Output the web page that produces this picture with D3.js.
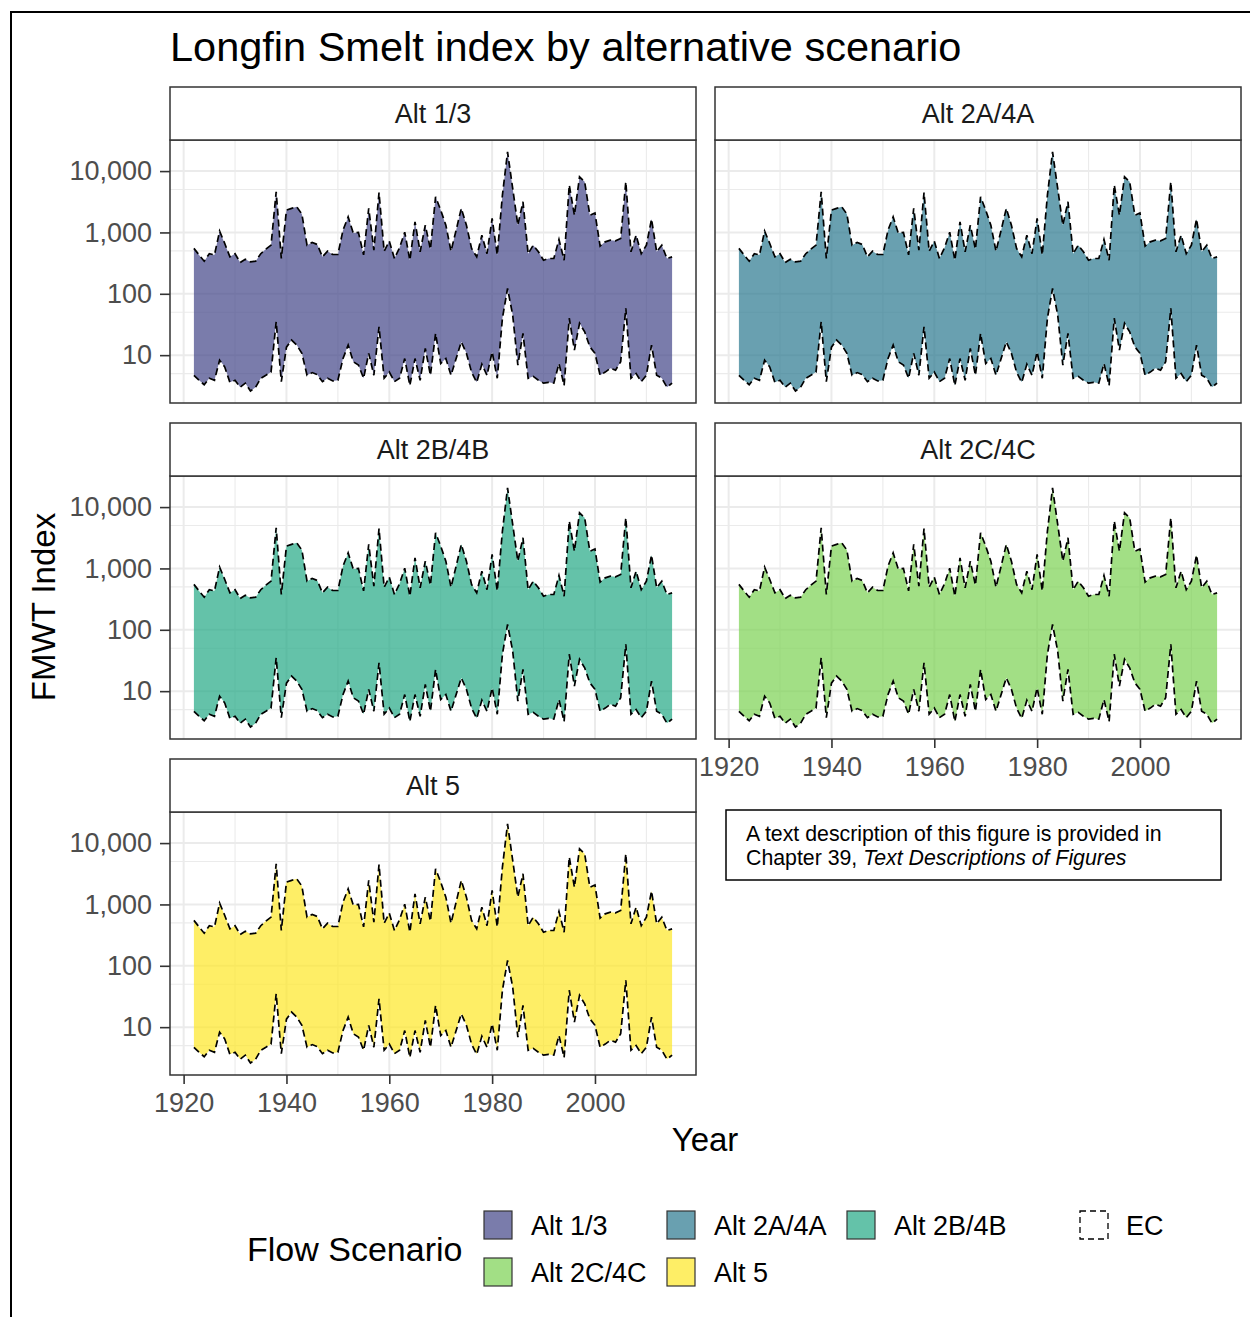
<!DOCTYPE html>
<html>
<head>
<meta charset="utf-8">
<script src="https://cdn.jsdelivr.net/npm/d3@7"></script>
<style>
  body { margin: 0; background: #fff; }
  text { font-family: "Liberation Sans", Arial, sans-serif; }
</style>
</head>
<body>
<script>
// water years shown in each facet
const years = [1922, 1923, 1924, 1925, 1926, 1927, 1928, 1929, 1930, 1931,
  1932, 1933, 1934, 1935, 1936, 1937, 1938, 1939, 1940, 1941,
  1942, 1943, 1944, 1945, 1946, 1947, 1948, 1949, 1950, 1951,
  1952, 1953, 1954, 1955, 1956, 1957, 1958, 1959, 1960, 1961,
  1962, 1963, 1964, 1965, 1966, 1967, 1968, 1969, 1970, 1971,
  1972, 1973, 1974, 1975, 1976, 1977, 1978, 1979, 1980, 1981,
  1982, 1983, 1984, 1985, 1986, 1987, 1988, 1989, 1990, 1991,
  1992, 1993, 1994, 1995, 1996, 1997, 1998, 1999, 2000, 2001,
  2002, 2003, 2004, 2005, 2006, 2007, 2008, 2009, 2010, 2011,
  2012, 2013, 2014, 2015];

// upper bound of FMWT index
const ecUpper = [550, 430, 340, 450, 430, 1050, 660, 400, 450, 324,
  366, 331, 340, 450, 535, 621, 4600, 376, 2310, 2470,
  2620, 1990, 620, 687, 637, 400, 495, 437, 437, 1090,
  1790, 975, 1000, 430, 2470, 514, 4460, 495, 722, 376,
  565, 1010, 353, 1490, 483, 1315, 535, 3810, 2310, 1315,
  495, 1090, 2470, 1315, 550, 400, 904, 450, 1690, 430,
  4060, 20500, 5220, 1315, 3160, 450, 620, 483, 353, 376,
  376, 770, 353, 5910, 1910, 8070, 6690, 1910, 2070, 600,
  703, 748, 729, 798, 6690, 483, 904, 450, 620, 1650,
  483, 620, 376, 400];

// lower bound of FMWT index
const ecLower = [4.7, 3.9, 3.3, 4.2, 3.9, 8.3, 6.4, 3.6, 3.9, 3.0,
  3.5, 2.6, 3.0, 4.2, 4.7, 5.3, 35, 3.7, 13.5, 17.6,
  14.6, 10.7, 4.7, 5.2, 4.8, 3.7, 4.2, 3.8, 3.9, 8.8,
  14.6, 7.8, 6.9, 4.2, 10.7, 4.7, 29, 4.2, 5.3, 3.7,
  4.2, 8.8, 3.2, 8.8, 3.9, 12.9, 4.7, 22.6, 7.3, 8.8,
  4.7, 8.8, 16.5, 10.7, 5.3, 3.6, 7.1, 4.7, 11.3, 4.2,
  40, 122, 45, 6.9, 22.6, 4.2, 4.5, 3.9, 3.5, 3.6,
  3.5, 7.3, 3.2, 40, 12.1, 33, 24, 13.7, 10.7, 4.7,
  5.3, 6.1, 5.7, 7.8, 58, 4.2, 5.0, 3.7, 4.7, 14.6,
  4.7, 4.2, 3.0, 3.5];

const scenarios = ["Alt 1/3", "Alt 2A/4A", "Alt 2B/4B", "Alt 2C/4C", "Alt 5"];
const scenarioColors = ["#414487", "#2A788E", "#22A884", "#7AD151", "#FDE725"];
const yTicks = [10, 100, 1000, 10000];
const yMinor = [5, 50, 500, 5000];
const xTicks = [1920, 1940, 1960, 1980, 2000];
const xMinor = [1930, 1950, 1970, 1990, 2010];

const width = 1250;
const height = 1317;
const panelW = 526;
const plotH = 263;
const stripH = 53;
const colX = [170, 715];
const rowY = [87, 423, 759];
const fillAlpha = 0.7;

const svg = d3.select("body").append("svg")
  .attr("width", width)
  .attr("height", height);

svg.append("rect").attr("width", width).attr("height", height).attr("fill", "#fff");

// outer frame
svg.append("path")
  .attr("d", `M11,${height} V12 H${width}`)
  .attr("fill", "none")
  .attr("stroke", "#000")
  .attr("stroke-width", 2);

svg.append("text")
  .attr("x", 170).attr("y", 61)
  .attr("font-size", 41.5)
  .attr("fill", "#000")
  .text("Longfin Smelt index by alternative scenario");

const xPad = (d3.max(years) - d3.min(years)) * 0.05;
const x = d3.scaleLinear()
  .domain([d3.min(years) - xPad, d3.max(years) + xPad])
  .range([0, panelW]);

const lo = Math.log10(d3.min(ecLower));
const hi = Math.log10(d3.max(ecUpper));
const yPad = (hi - lo) * 0.05;
const y = d3.scaleLog()
  .domain([Math.pow(10, lo - yPad), Math.pow(10, hi + yPad)])
  .range([plotH, 0]);

const rows = years.map((yr, i) => ({ year: yr, lower: ecLower[i], upper: ecUpper[i] }));

const area = d3.area()
  .x(d => x(d.year))
  .y0(d => y(d.lower))
  .y1(d => y(d.upper));
const upperLine = d3.line().x(d => x(d.year)).y(d => y(d.upper));
const lowerLine = d3.line().x(d => x(d.year)).y(d => y(d.lower));

function styleAxis(g) {
  g.select(".domain").remove();
  g.selectAll(".tick line").attr("stroke", "#333").attr("stroke-width", 1.6);
  g.selectAll(".tick text")
    .attr("fill", "#4d4d4d")
    .attr("font-size", 27)
    .attr("font-family", "Liberation Sans, Arial, sans-serif");
}

scenarios.forEach((name, i) => {
  const col = i % 2;
  const row = Math.floor(i / 2);
  const px = colX[col];
  const top = rowY[row];
  const g = svg.append("g").attr("transform", `translate(${px},${top + stripH})`);

  // strip
  svg.append("rect")
    .attr("x", px).attr("y", top)
    .attr("width", panelW).attr("height", stripH)
    .attr("fill", "#fff")
    .attr("stroke", "#333").attr("stroke-width", 1.5);
  svg.append("text")
    .attr("x", px + panelW / 2).attr("y", top + stripH / 2)
    .attr("dy", "0.36em")
    .attr("text-anchor", "middle")
    .attr("font-size", 27)
    .attr("fill", "#1a1a1a")
    .text(name);

  // grid
  g.selectAll(".ymin").data(yMinor).enter().append("line")
    .attr("x1", 0).attr("x2", panelW)
    .attr("y1", d => y(d)).attr("y2", d => y(d))
    .attr("stroke", "#ebebeb").attr("stroke-width", 1.1);
  g.selectAll(".xmin").data(xMinor).enter().append("line")
    .attr("y1", 0).attr("y2", plotH)
    .attr("x1", d => x(d)).attr("x2", d => x(d))
    .attr("stroke", "#ebebeb").attr("stroke-width", 1.1);
  g.selectAll(".ymaj").data(yTicks).enter().append("line")
    .attr("x1", 0).attr("x2", panelW)
    .attr("y1", d => y(d)).attr("y2", d => y(d))
    .attr("stroke", "#ebebeb").attr("stroke-width", 2);
  g.selectAll(".xmaj").data(xTicks).enter().append("line")
    .attr("y1", 0).attr("y2", plotH)
    .attr("x1", d => x(d)).attr("x2", d => x(d))
    .attr("stroke", "#ebebeb").attr("stroke-width", 2);

  g.append("path")
    .datum(rows)
    .attr("d", area)
    .attr("fill", scenarioColors[i])
    .attr("fill-opacity", fillAlpha);

  [upperLine, lowerLine].forEach(ln => {
    g.append("path")
      .datum(rows)
      .attr("d", ln)
      .attr("fill", "none")
      .attr("stroke", "#000")
      .attr("stroke-width", 1.7)
      .attr("stroke-dasharray", "7,4");
  });

  g.append("rect")
    .attr("width", panelW).attr("height", plotH)
    .attr("fill", "none")
    .attr("stroke", "#333").attr("stroke-width", 1.5);

  if (col === 0) {
    g.append("g")
      .call(d3.axisLeft(y).tickValues(yTicks).tickFormat(d3.format(",")).tickSize(10).tickPadding(8))
      .call(styleAxis);
  }
  // bottom axis on the last panel of each column
  if (i === 3 || i === 4) {
    g.append("g")
      .attr("transform", `translate(0,${plotH})`)
      .call(d3.axisBottom(x).tickValues(xTicks).tickFormat(d3.format("d")).tickSize(9).tickPadding(9))
      .call(styleAxis);
  }
});

// axis titles
svg.append("text")
  .attr("transform", "translate(55,607) rotate(-90)")
  .attr("text-anchor", "middle")
  .attr("font-size", 33)
  .text("FMWT Index");
svg.append("text")
  .attr("x", 705).attr("y", 1151)
  .attr("text-anchor", "middle")
  .attr("font-size", 33)
  .text("Year");

// note box
svg.append("rect")
  .attr("x", 726).attr("y", 810).attr("width", 495).attr("height", 70)
  .attr("fill", "#fff").attr("stroke", "#000").attr("stroke-width", 1.5);
svg.append("text")
  .attr("x", 746).attr("y", 841)
  .attr("font-size", 21.3)
  .text("A text description of this figure is provided in");
const note2 = svg.append("text").attr("x", 746).attr("y", 865).attr("font-size", 21.3);
note2.append("tspan").text("Chapter 39, ");
note2.append("tspan").attr("font-style", "italic").text("Text Descriptions of Figures");

// legend
svg.append("text")
  .attr("x", 247).attr("y", 1261)
  .attr("font-size", 34)
  .text("Flow Scenario");

const keyX = [484, 667, 847];
const keyY = [1211, 1258];
const keySize = 28;
scenarios.forEach((name, i) => {
  const kx = keyX[i % 3];
  const ky = keyY[Math.floor(i / 3)];
  svg.append("rect")
    .attr("x", kx).attr("y", ky)
    .attr("width", keySize).attr("height", keySize)
    .attr("fill", scenarioColors[i]).attr("fill-opacity", fillAlpha)
    .attr("stroke", "#333").attr("stroke-width", 1.2);
  svg.append("text")
    .attr("x", kx + 47).attr("y", ky + keySize / 2 + 10)
    .attr("font-size", 27)
    .text(name);
});

svg.append("rect")
  .attr("x", 1080).attr("y", 1211)
  .attr("width", keySize).attr("height", keySize)
  .attr("fill", "none")
  .attr("stroke", "#000").attr("stroke-width", 1.3)
  .attr("stroke-dasharray", "6,4");
svg.append("text")
  .attr("x", 1126).attr("y", 1211 + keySize / 2 + 10)
  .attr("font-size", 27)
  .text("EC");
</script>
</body>
</html>
